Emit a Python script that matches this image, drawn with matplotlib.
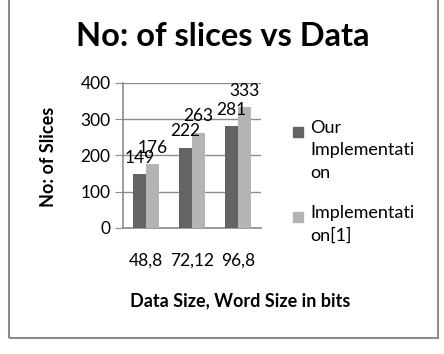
import numpy as np
import matplotlib.pyplot as plt
from matplotlib.patches import Rectangle

categories = ['48,8', '72,12', '96,8']
ours = [149, 222, 281]
ref_impl = [176, 263, 333]
series_names = ['Our\nImplementati\non', 'Implementati\non[1]']
series_colors = ['#646464', '#b4b4b4']
yticks = [0, 100, 200, 300, 400]

plt.rcParams['font.family'] = ['Lato', 'DejaVu Sans']

W, H = 444, 354
fig = plt.figure(figsize=(W / 100, H / 100), dpi=100)

# outer chart border
fig.patches.append(Rectangle((9 / W, 1 - 338 / H), 429 / W, 340 / H,
                             transform=fig.transFigure, fill=False,
                             edgecolor='#8c8c8c', linewidth=1.5))

ax = fig.add_axes([123 / W, 1 - 228 / H, 138 / W, 145 / H])

x = np.arange(len(categories))
w = 0.29
b1 = ax.bar(x - w / 2, ours, w, color=series_colors[0], zorder=3)
b2 = ax.bar(x + w / 2, ref_impl, w, color=series_colors[1], zorder=3)

for bars, vals in ((b1, ours), (b2, ref_impl)):
    for r, v in zip(bars, vals):
        ax.annotate(str(v), (r.get_x() + r.get_width() / 2, v),
                    xytext=(0, 6), textcoords='offset points',
                    ha='center', va='bottom', fontsize=12.5, zorder=4)

ax.set_xlim(-0.5, 2.5)
ax.set_ylim(0, 400)
ax.set_yticks(yticks)
ax.set_xticks(x)
ax.set_xticklabels(categories, fontsize=12.5)
ax.tick_params(axis='y', labelsize=12.5, length=6, color='#8c8c8c', pad=3)
ax.tick_params(axis='x', length=0, pad=18)
ax.grid(axis='y', color='#8c8c8c', linewidth=1, zorder=0)
for s in ['top', 'right']:
    ax.spines[s].set_visible(False)
for s in ['left', 'bottom']:
    ax.spines[s].set_color('#8c8c8c')
    ax.spines[s].set_linewidth(1.2)

fig.text(223 / W, 1 - 37 / H, 'No: of slices vs Data', ha='center', va='center',
         fontsize=23.5, fontweight='bold')
fig.text(48 / W, 1 - 157 / H, 'No: of Slices', ha='center', va='center',
         rotation=90, fontsize=13, fontweight='bold')
fig.text(240 / W, 1 - 301 / H, 'Data Size, Word Size in bits', ha='center',
         va='center', fontsize=13, fontweight='bold')

# legend drawn by hand so the marker sits on the first wrapped line
legend_y = [132, 217]
for name, col, yy in zip(series_names, series_colors, legend_y):
    fig.patches.append(Rectangle((293 / W, 1 - (yy + 5) / H), 10 / W, 10 / H,
                                 transform=fig.transFigure, color=col))
    fig.text(310 / W, 1 - (yy - 12) / H, name, ha='left', va='top',
             fontsize=13, linespacing=1.5)

fig.savefig('out.png', dpi=100)
